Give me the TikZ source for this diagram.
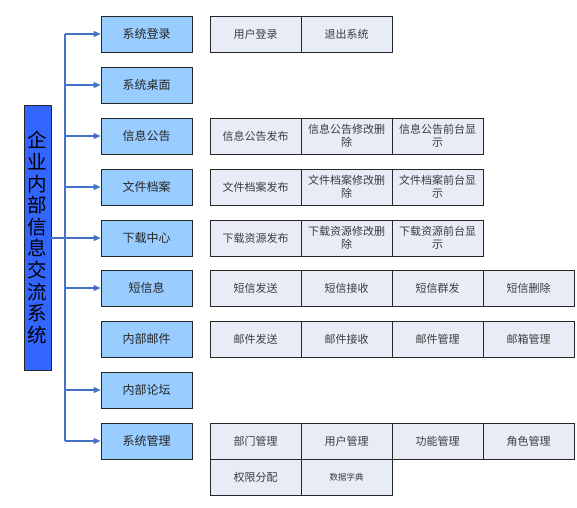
\documentclass[tikz,border=0pt]{standalone}
\usepackage{fontspec}
\setmainfont{Noto Sans CJK SC}
\usetikzlibrary{arrows.meta,shadows}
\definecolor{rootblue}{RGB}{51,102,255}
\definecolor{lvblue}{RGB}{153,204,255}
\definecolor{subfill}{RGB}{232,236,247}
\definecolor{linkblue}{RGB}{68,114,196}
\definecolor{txtgray}{RGB}{60,60,60}
\tikzset{
  lvbox/.style={draw=black!85, line width=0.9pt, fill=lvblue, minimum width=91pt, minimum height=36pt,
    inner sep=0pt, font=\fontsize{12}{13}\selectfont, text=black!85,
    drop shadow={shadow xshift=1.2pt, shadow yshift=-1.2pt, fill=black!40, opacity=0.7}},
  subbox/.style={draw=black!85, line width=0.8pt, fill=subfill, minimum width=91pt, minimum height=36pt,
    inner sep=0pt, align=center, font=\fontsize{11}{13.5}\selectfont, text=txtgray,
    drop shadow={shadow xshift=1.2pt, shadow yshift=-1.2pt, fill=black!40, opacity=0.7}},
  rootbox/.style={draw=black!85, line width=0.9pt, fill=rootblue, minimum width=27pt, minimum height=265pt,
    inner sep=0pt, align=center, font=\fontsize{19.5}{21.6}\selectfont, text=black},
  link/.style={draw=linkblue, line width=1.1pt},
  arrowlink/.style={link, -{Triangle[length=7pt,width=6pt]}}
}
\begin{document}
\begin{tikzpicture}[x=1pt,y=-1pt]
\useasboundingbox (0,0) rectangle (577,507);
% root
\node[rootbox] (root) at (37.5,237.5) {企\\业\\内\\部\\信\\息\\交\\流\\系\\统};
% level 1
\node[lvbox] (L1) at (146.5,34) {系统登录};
\node[lvbox] (L2) at (146.5,85) {系统桌面};
\node[lvbox] (L3) at (146.5,136) {信息公告};
\node[lvbox] (L4) at (146.5,187) {文件档案};
\node[lvbox] (L5) at (146.5,238) {下载中心};
\node[lvbox] (L6) at (146.5,288) {短信息};
\node[lvbox] (L7) at (146.5,339) {内部邮件};
\node[lvbox] (L8) at (146.5,390) {内部论坛};
\node[lvbox] (L9) at (146.5,441) {系统管理};
% trunk coordinates
\foreach \i in {1,...,9} { \coordinate (T\i) at (65,0 |- L\i.west); }
\draw[link] (T1) -- (T9);
\draw[link] (root.east |- L5.west) -- (T5);
\foreach \i in {1,2,3,4,5,6,8,9} { \draw[arrowlink] (T\i) -- (L\i.west); }
% sub items
\node[subbox] (s11) at (255.5,34) {用户登录};
\node[subbox] (s12) at (346.5,34) {退出系统};
\node[subbox] (s31) at (255.5,136) {信息公告发布};
\node[subbox] (s32) at (346.5,136) {信息公告修改删\\除};
\node[subbox] (s33) at (437.5,136) {信息公告前台显\\示};
\node[subbox] (s41) at (255.5,187) {文件档案发布};
\node[subbox] (s42) at (346.5,187) {文件档案修改删\\除};
\node[subbox] (s43) at (437.5,187) {文件档案前台显\\示};
\node[subbox] (s51) at (255.5,238) {下载资源发布};
\node[subbox] (s52) at (346.5,238) {下载资源修改删\\除};
\node[subbox] (s53) at (437.5,238) {下载资源前台显\\示};
\node[subbox] (s61) at (255.5,288) {短信发送};
\node[subbox] (s62) at (346.5,288) {短信接收};
\node[subbox] (s63) at (437.5,288) {短信群发};
\node[subbox] (s64) at (528.5,288) {短信删除};
\node[subbox] (s71) at (255.5,339) {邮件发送};
\node[subbox] (s72) at (346.5,339) {邮件接收};
\node[subbox] (s73) at (437.5,339) {邮件管理};
\node[subbox] (s74) at (528.5,339) {邮箱管理};
\node[subbox] (s91) at (255.5,441) {部门管理};
\node[subbox] (s92) at (346.5,441) {用户管理};
\node[subbox] (s93) at (437.5,441) {功能管理};
\node[subbox] (s94) at (528.5,441) {角色管理};
\node[subbox] (s95) at (255.5,477) {权限分配};
\node[subbox, font=\fontsize{8.5}{10}\selectfont] (s96) at (346.5,477) {数据字典};
\end{tikzpicture}
\end{document}
